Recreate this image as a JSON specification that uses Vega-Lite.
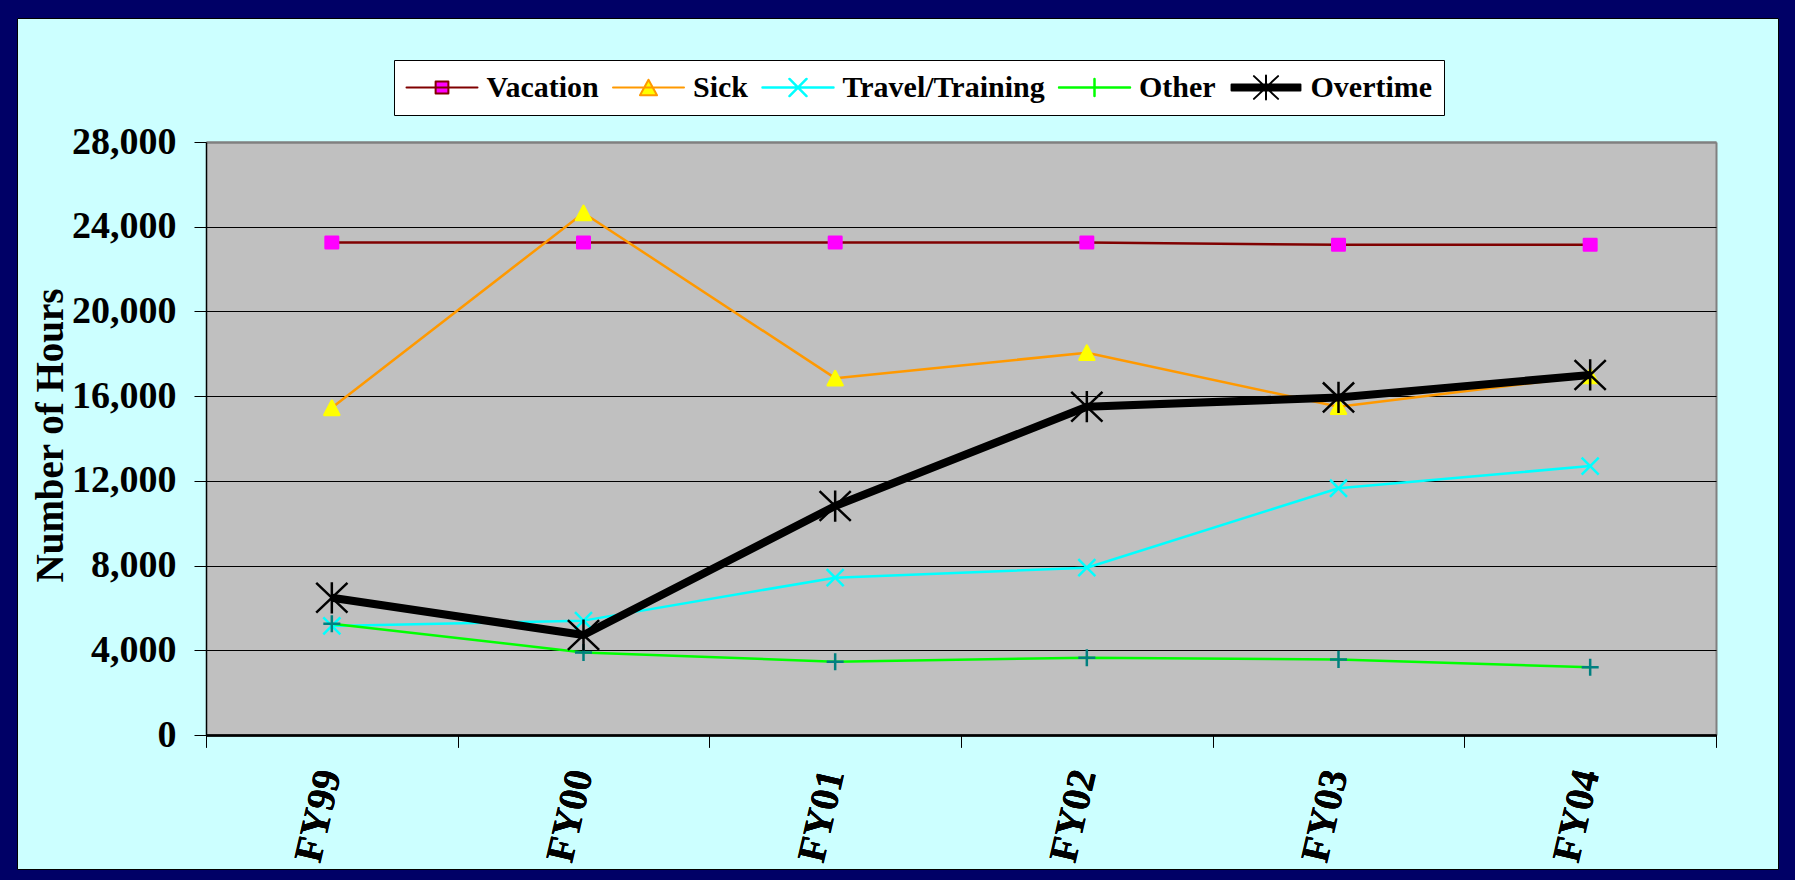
{
  "$schema": "https://vega.github.io/schema/vega-lite/v6.json",
  "width": 1761,
  "height": 851,
  "autosize": {"type": "none"},
  "padding": {"left": 17, "top": 18, "right": 17, "bottom": 11},
  "background": "#000066",
  "config": {
    "view": {"fill": "#CCFFFF", "stroke": "#000000", "strokeWidth": 1},
    "font": "Liberation Serif"
  },
  "data": {
    "values": [
      {"year": "FY99", "series": "Vacation", "hours": 23250},
      {"year": "FY00", "series": "Vacation", "hours": 23250},
      {"year": "FY01", "series": "Vacation", "hours": 23250},
      {"year": "FY02", "series": "Vacation", "hours": 23250},
      {"year": "FY03", "series": "Vacation", "hours": 23150},
      {"year": "FY04", "series": "Vacation", "hours": 23150},
      {"year": "FY99", "series": "Sick", "hours": 15450},
      {"year": "FY00", "series": "Sick", "hours": 24650},
      {"year": "FY01", "series": "Sick", "hours": 16850},
      {"year": "FY02", "series": "Sick", "hours": 18050},
      {"year": "FY03", "series": "Sick", "hours": 15500},
      {"year": "FY04", "series": "Sick", "hours": 16950},
      {"year": "FY99", "series": "Travel/Training", "hours": 5150},
      {"year": "FY00", "series": "Travel/Training", "hours": 5400},
      {"year": "FY01", "series": "Travel/Training", "hours": 7430},
      {"year": "FY02", "series": "Travel/Training", "hours": 7900},
      {"year": "FY03", "series": "Travel/Training", "hours": 11650},
      {"year": "FY04", "series": "Travel/Training", "hours": 12700},
      {"year": "FY99", "series": "Other", "hours": 5250},
      {"year": "FY00", "series": "Other", "hours": 3900},
      {"year": "FY01", "series": "Other", "hours": 3460},
      {"year": "FY02", "series": "Other", "hours": 3650},
      {"year": "FY03", "series": "Other", "hours": 3570},
      {"year": "FY04", "series": "Other", "hours": 3200},
      {"year": "FY99", "series": "Overtime", "hours": 6480},
      {"year": "FY00", "series": "Overtime", "hours": 4720},
      {"year": "FY01", "series": "Overtime", "hours": 10810},
      {"year": "FY02", "series": "Overtime", "hours": 15500},
      {"year": "FY03", "series": "Overtime", "hours": 15940},
      {"year": "FY04", "series": "Overtime", "hours": 17000}
    ]
  },
  "encoding": {
    "x": {
      "field": "year",
      "type": "nominal",
      "sort": ["FY99", "FY00", "FY01", "FY02", "FY03", "FY04"],
      "scale": {"type": "band", "range": [189, 1699], "paddingInner": 0, "paddingOuter": 0},
      "axis": {
        "title": null,
        "orient": "bottom",
        "offset": -134,
        "domain": true,
        "domainColor": "#000000",
        "domainWidth": 2,
        "ticks": true,
        "tickBand": "extent",
        "tickSize": 12,
        "tickColor": "#000000",
        "tickWidth": 1,
        "grid": false,
        "labelAngle": 283,
        "labelFont": "Liberation Serif",
        "labelFontWeight": "bold",
        "labelFontSize": 40,
        "labelColor": "#000000",
        "labelPadding": 23,
        "labelOffset": -3
      }
    },
    "y": {
      "field": "hours",
      "type": "quantitative",
      "scale": {"domain": [0, 28000], "range": [717, 124], "nice": false, "zero": true},
      "axis": {
        "title": "Number of Hours",
        "orient": "left",
        "offset": -189,
        "values": [0, 4000, 8000, 12000, 16000, 20000, 24000, 28000],
        "format": ",.0f",
        "domainColor": "#000000",
        "domainWidth": 1.5,
        "tickSize": 12,
        "tickColor": "#000000",
        "tickWidth": 1,
        "grid": true,
        "gridOpacity": 1,
        "gridColor": {"condition": {"test": "datum.value === 28000", "value": "#808080"}, "value": "#000000"},
        "gridWidth": {"condition": {"test": "datum.value === 28000", "value": 2}, "value": 1},
        "labelFont": "Liberation Serif",
        "labelFontWeight": "bold",
        "labelFontSize": 38,
        "labelColor": "#000000",
        "labelPadding": 18,
        "titleFont": "Liberation Serif",
        "titleFontWeight": "bold",
        "titleFontSize": 39,
        "titleColor": "#000000",
        "titleX": -144,
        "titleY": 417,
        "titleAngle": 270,
        "titleAlign": "center",
        "titleBaseline": "alphabetic"
      }
    }
  },
  "layer": [
    {
      "mark": {"type": "line", "strokeWidth": 2.5, "strokeJoin": "round"},
      "encoding": {
        "x": {
          "field": "year",
          "type": "nominal",
          "sort": ["FY99", "FY00", "FY01", "FY02", "FY03", "FY04"],
          "scale": {"type": "band", "range": [189, 1699], "paddingInner": 0, "paddingOuter": 0},
          "axis": {
            "title": null,
            "orient": "top",
            "offset": -124,
            "labels": false,
            "ticks": false,
            "domain": true,
            "domainColor": "#808080",
            "domainWidth": 2,
            "tickBand": "extent",
            "grid": true,
            "gridOpacity": 1,
            "gridColor": {"condition": {"test": "datum.value === 'FY04'", "value": "#808080"}, "value": "#C0C0C0"},
            "gridWidth": {"condition": [{"test": "datum.value === 'FY01'", "value": 1510}, {"test": "datum.value === 'FY04'", "value": 2}], "value": 0}
          }
        },
        "color": {
          "field": "series",
          "type": "nominal",
          "sort": ["Vacation", "Sick", "Travel/Training", "Other", "Overtime"],
          "scale": {"range": ["#800000", "#FF9900", "#00FFFF", "#00FF00", "#000000"]},
          "legend": {
            "title": null,
            "orient": "none",
            "legendX": 377,
            "legendY": 42,
            "direction": "horizontal",
            "columns": 5,
            "symbolType": "stroke",
            "symbolSize": 5041,
            "symbolStrokeWidth": 2.5,
            "labelFont": "Liberation Serif",
            "labelFontWeight": "bold",
            "labelFontSize": 30,
            "labelColor": "#000000",
            "labelLimit": 400,
            "labelOffset": 7.5,
            "columnPadding": 12.5,
            "rowPadding": 0,
            "padding": 11,
            "clipHeight": 33,
            "fillColor": "#FFFFFF",
            "strokeColor": "#000000",
            "encode": {
              "symbols": {
                "update": {
                  "shape": {"signal": "datum.value === 'Vacation' ? 'M-1,0H1M-0.18,-0.17H0.18V0.17H-0.18Z' : datum.value === 'Sick' ? 'M-1,0H1M0,-0.22L0.24,0.22H-0.24Z' : datum.value === 'Travel/Training' ? 'M-1,0H1M-0.24,-0.24L0.24,0.24M-0.24,0.24L0.24,-0.24' : datum.value === 'Other' ? 'M-1,0H1M-0.24,0H0.24M0,-0.24V0.24' : 'M-0.97,-0.085H0.97V0.085H-0.97ZM0,-0.34V0.34M-0.34,-0.32L0.34,0.32M-0.34,0.32L0.34,-0.32'"},
                  "fill": {"signal": "datum.value === 'Vacation' ? '#FF00FF' : datum.value === 'Sick' ? '#FFFF00' : datum.value === 'Overtime' ? '#000000' : 'transparent'"},
                  "fillOpacity": {"value": 1},
                  "opacity": {"value": 1},
                  "strokeWidth": {"signal": "(datum.value === 'Vacation' || datum.value === 'Sick' || datum.value === 'Overtime' ? 2 : 2.5)"},
                  "strokeCap": {"value": "round"},
                  "strokeJoin": {"value": "round"}
                }
              }
            }
          }
        }
      }
    },
    {
      "transform": [{"filter": "datum.series !== 'Overtime'"}],
      "mark": {"type": "point", "filled": true, "opacity": 1, "size": 5041, "strokeWidth": 2.5, "strokeJoin": "round"},
      "encoding": {
        "shape": {
          "field": "series",
          "type": "nominal",
          "scale": {
            "domain": ["Vacation", "Sick", "Travel/Training", "Other", "Overtime"],
            "range": [
              "M-0.176,-0.162H0.176V0.162H-0.176Z",
              "M0,-0.2L0.21,0.2H-0.21Z",
              "M-0.24,-0.24L0.24,0.24M-0.24,0.24L0.24,-0.24",
              "M-0.24,0H0.24M0,-0.24V0.24",
              "M0,-0.44V0.44M-0.44,-0.42L0.44,0.42M-0.44,0.42L0.44,-0.42"
            ]
          },
          "legend": null
        },
        "fill": {
          "field": "series",
          "type": "nominal",
          "scale": {
            "domain": ["Vacation", "Sick", "Travel/Training", "Other", "Overtime"],
            "range": ["#FF00FF", "#FFFF00", "#00FFFF", "#008080", "#000000"]
          },
          "legend": null
        },
        "stroke": {
          "field": "series",
          "type": "nominal",
          "scale": {
            "domain": ["Vacation", "Sick", "Travel/Training", "Other", "Overtime"],
            "range": ["#FF00FF", "#FFFF00", "#00FFFF", "#008080", "#000000"]
          },
          "legend": null
        }
      }
    },
    {
      "transform": [{"filter": "datum.series === 'Overtime'"}],
      "mark": {"type": "line", "color": "#000000", "strokeWidth": 8, "strokeJoin": "round"},
      "encoding": {}
    },
    {
      "transform": [{"filter": "datum.series === 'Overtime'"}],
      "mark": {"type": "point", "filled": true, "opacity": 1, "size": 5041, "strokeWidth": 2.5, "strokeJoin": "round"},
      "encoding": {
        "shape": {
          "field": "series",
          "type": "nominal",
          "scale": {
            "domain": ["Vacation", "Sick", "Travel/Training", "Other", "Overtime"],
            "range": [
              "M-0.176,-0.162H0.176V0.162H-0.176Z",
              "M0,-0.2L0.21,0.2H-0.21Z",
              "M-0.24,-0.24L0.24,0.24M-0.24,0.24L0.24,-0.24",
              "M-0.24,0H0.24M0,-0.24V0.24",
              "M0,-0.44V0.44M-0.44,-0.42L0.44,0.42M-0.44,0.42L0.44,-0.42"
            ]
          },
          "legend": null
        },
        "fill": {
          "field": "series",
          "type": "nominal",
          "scale": {
            "domain": ["Vacation", "Sick", "Travel/Training", "Other", "Overtime"],
            "range": ["#FF00FF", "#FFFF00", "#00FFFF", "#008080", "#000000"]
          },
          "legend": null
        },
        "stroke": {
          "field": "series",
          "type": "nominal",
          "scale": {
            "domain": ["Vacation", "Sick", "Travel/Training", "Other", "Overtime"],
            "range": ["#FF00FF", "#FFFF00", "#00FFFF", "#008080", "#000000"]
          },
          "legend": null
        }
      }
    }
  ]
}
